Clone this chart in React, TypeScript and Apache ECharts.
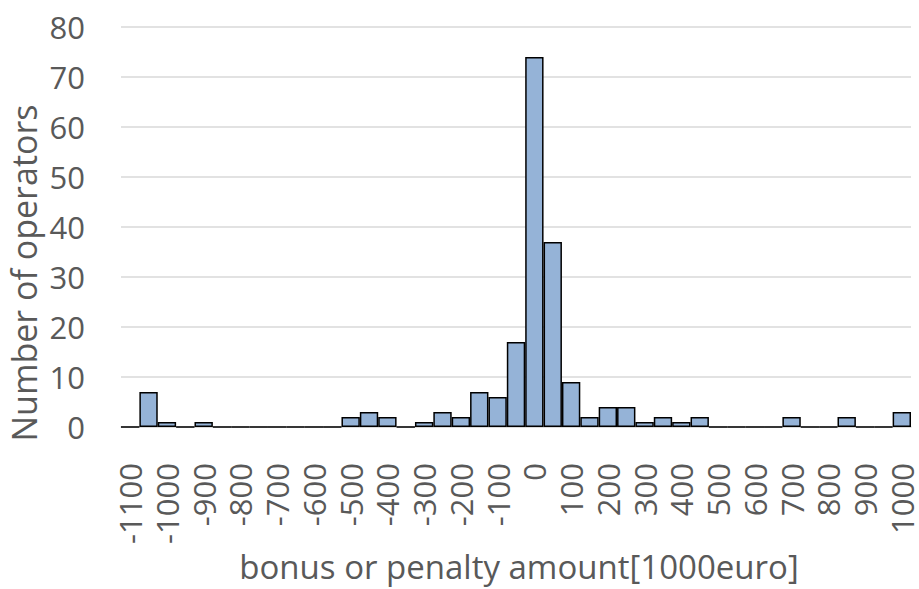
import React, { useEffect, useRef } from "react";
import * as echarts from "echarts";

const categories = [
  "-1100", "-1050", "-1000", "-950", "-900", "-850", "-800", "-750", "-700", "-650",
  "-600", "-550", "-500", "-450", "-400", "-350", "-300", "-250", "-200", "-150",
  "-100", "-50", "0", "50", "100", "150", "200", "250", "300", "350",
  "400", "450", "500", "550", "600", "650", "700", "750", "800", "850",
  "900", "950", "1000",
];

const operators = [
  0, 7, 1, 0, 1, 0, 0, 0, 0, 0,
  0, 0, 2, 3, 2, 0, 1, 3, 2, 7,
  6, 17, 74, 37, 9, 2, 4, 4, 1, 2,
  1, 2, 0, 0, 0, 0, 2, 0, 0, 2,
  0, 0, 3,
];

const yTicks = { min: 0, max: 80, interval: 10 };

const FONT = "'Open Sans', sans-serif";
const TEXT = "#595959";
const GRID = "#D9D9D9";

export default function App() {
  const ref = useRef<HTMLDivElement>(null);

  useEffect(() => {
    if (!ref.current) return;
    const chart = echarts.init(ref.current, undefined, { renderer: "svg" });
    chart.setOption({
      animation: false,
      backgroundColor: "#ffffff",
      textStyle: { fontFamily: FONT },
      grid: { left: 121, right: 8, top: 27, bottom: 162, containLabel: false },
      xAxis: {
        type: "category",
        data: categories,
        boundaryGap: true,
        axisLine: { show: true, lineStyle: { color: GRID, width: 1.5 } },
        axisTick: { show: false },
        axisLabel: {
          interval: 1,
          rotate: 90,
          margin: 36,
          color: TEXT,
          fontSize: 31,
          lineHeight: 26,
          fontFamily: FONT,
        },
      },
      yAxis: {
        type: "value",
        min: yTicks.min,
        max: yTicks.max,
        interval: yTicks.interval,
        axisLine: { show: false },
        axisTick: { show: false },
        splitLine: { show: true, lineStyle: { color: GRID, width: 1.5 } },
        axisLabel: { margin: 36, color: TEXT, fontSize: 31, fontFamily: FONT },
      },
      graphic: [
        {
          type: "text",
          x: 24,
          y: 273,
          rotation: Math.PI / 2,
          style: {
            text: "Number of operators",
            fill: TEXT,
            font: `34px ${FONT}`,
            textAlign: "center",
            textVerticalAlign: "middle",
          },
        },
        {
          type: "text",
          x: 519,
          y: 566,
          style: {
            text: "bonus or penalty amount[1000euro]",
            fill: TEXT,
            font: `33px ${FONT}`,
            lineHeight: 33,
            textAlign: "center",
            textVerticalAlign: "middle",
          },
        },
      ],
      series: [
        {
          type: "bar",
          data: operators,
          barCategoryGap: "0%",
          itemStyle: { color: "#95B3D7", borderColor: "#000000", borderWidth: 1.5 },
        },
      ],
    });
    return () => chart.dispose();
  }, []);

  return (
    <div
      ref={ref}
      style={{ position: "fixed", left: 0, top: 0, width: 919, height: 589, background: "#fff" }}
    />
  );
}
